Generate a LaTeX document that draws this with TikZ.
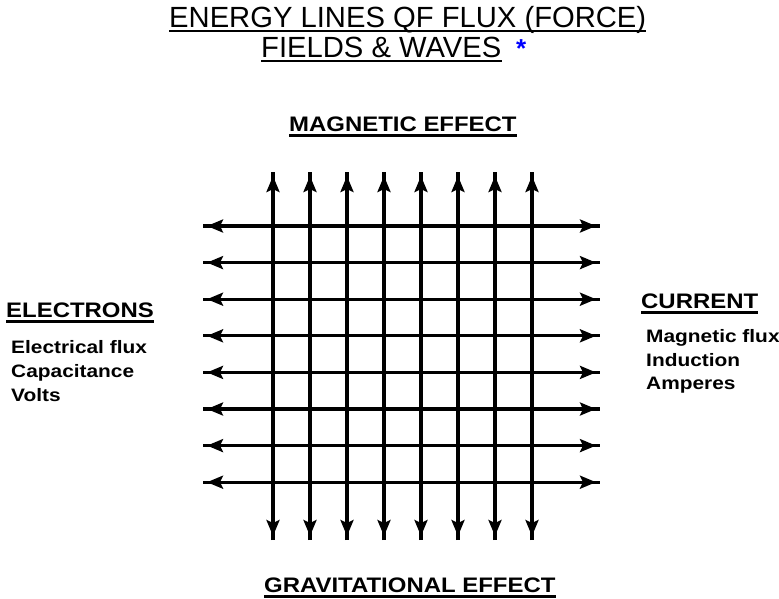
\documentclass[tikz,border=0pt]{standalone}
\usepackage{fontspec}
\setmainfont{Liberation Sans}
\newfontfamily\headfont{Liberation Sans}[FakeStretch=1.14]
\newfontfamily\bodyfont{Liberation Sans}[FakeStretch=1.16]
\usetikzlibrary{arrows.meta,positioning}

\tikzset{
  fluxtip/.tip={Stealth[length=16pt,width=13pt,inset=3pt]},
  fluxline/.style={line width=3.2pt,
    postaction={draw,line width=3.2pt,fluxtip-fluxtip,shorten <=4pt,shorten >=4pt}},
  txt/.style={inner sep=0pt,anchor=base west},
  titletxt/.style={txt,font=\fontsize{29.2}{31}\selectfont},
  headtxt/.style={txt,font=\headfont\bfseries\fontsize{21}{24}\selectfont},
  bodytxt/.style={txt,font=\bodyfont\bfseries\fontsize{18}{24}\selectfont},
  uline/.style={line width=2.4pt},
}

\begin{document}
\begin{tikzpicture}[x=1pt,y=-1pt]
	\fill[white] (0,0) rectangle (779,598);
	\useasboundingbox (0,0) rectangle (779,598);
	% title
	\node[titletxt] (ttl1) at (169,27) {ENERGY LINES QF FLUX (FORCE)};
	\node[titletxt] (ttl2) at (261,57) {FIELDS \& WAVES};
	\node[txt,font=\bfseries\fontsize{26}{28}\selectfont,text=blue] (star) at (516,57) {*};
	% headings
	\node[headtxt] (mag) at (289,131) {MAGNETIC EFFECT};
	\node[headtxt] (ele) at (6,317) {ELECTRONS};
	\node[headtxt] (cur) at (641,308) {CURRENT};
	\node[headtxt] (grav) at (264,592) {GRAVITATIONAL EFFECT};
	% left text
	\node[bodytxt] (ele1) at (11,353) {Electrical flux};
	\node[bodytxt] (ele2) at ([yshift=-24pt]ele1.base west) {Capacitance};
	\node[bodytxt] (ele3) at ([yshift=-24pt]ele2.base west) {Volts};
	% right text
	\node[bodytxt] (cur1) at (646,342) {Magnetic flux};
	\node[bodytxt] (cur2) at ([yshift=-24pt]cur1.base west) {Induction};
	\node[bodytxt] (cur3) at ([yshift=-23pt]cur2.base west) {Amperes};
	% underlines
	\foreach \n in {ttl1,ttl2}
		\draw[line width=1.6pt] ([yshift=-4pt]\n.base west) -- ([yshift=-4pt]\n.base east);
	\foreach \n in {mag,ele,cur,grav}
		\draw[uline] ([yshift=-4.5pt]\n.base west) -- ([yshift=-4.5pt]\n.base east);
	% flux lines
	\foreach \i in {0,...,7}{
		\coordinate (vb\i) at ({273+37*\i},540);
		\coordinate (vt\i) at ({273+37*\i},172);
		\coordinate (hl\i) at (203,{226+36.6*\i});
		\coordinate (hr\i) at (600,{226+36.6*\i});
		\draw[fluxline] (vb\i) -- (vt\i);
		\draw[fluxline] (hl\i) -- (hr\i);
	}
\end{tikzpicture}
\end{document}
